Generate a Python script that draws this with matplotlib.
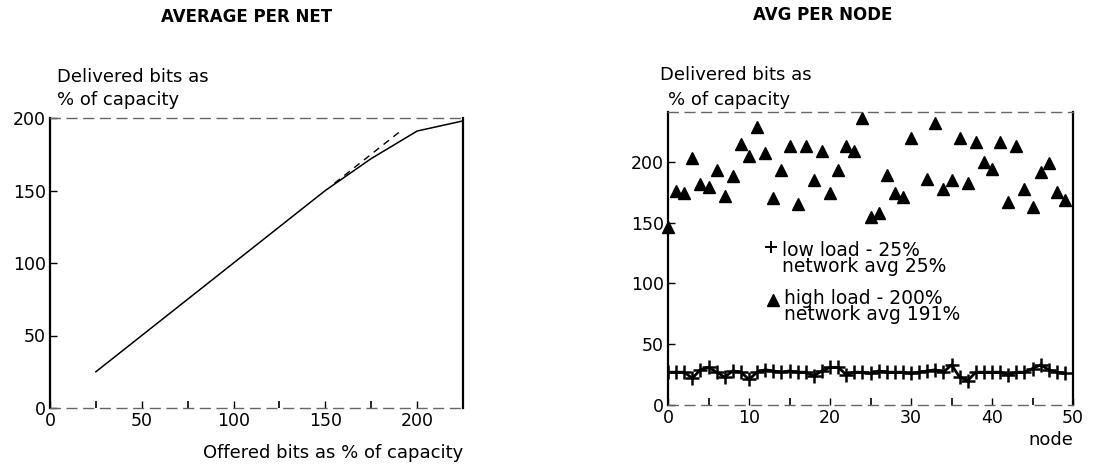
import matplotlib
matplotlib.use("Agg")
import matplotlib.pyplot as plt

plt.rcParams['font.family'] = ['DejaVu Sans']

# Average per network: offered vs delivered load (% of capacity)
offered = [25, 50, 75, 100, 125, 150, 175, 200, 225]
delivered = [25, 50, 75, 100, 125, 150, 172, 191, 198]
ideal_x = [155, 190]
ideal_y = [155, 190]

# Average per node
nodes = list(range(50))
high_nodes = [n for n in nodes if n != 31]
high_load = [146, 176, 174, 203, 182, 179, 193, 172, 188, 215,
             205, 229, 207, 170, 193, 213, 165, 213, 185, 209,
             174, 193, 213, 209, 236, 155, 158, 189, 174, 171,
             220, 186, 232, 178, 185, 220, 183, 216, 200,
             194, 216, 167, 213, 178, 163, 192, 199, 175, 169]
low_load = [27, 27, 27, 22, 29, 31, 27, 23, 28, 27,
            21, 27, 29, 28, 27, 28, 27, 27, 24, 28,
            31, 31, 25, 27, 27, 26, 28, 27, 27, 27,
            26, 27, 28, 29, 27, 33, 23, 20, 27, 27,
            27, 27, 25, 27, 27, 30, 33, 29, 27, 26]

fig = plt.figure(figsize=(10.94, 4.74), dpi=100)
W, H = 1094, 474


def axes_px(x0, y0, x1, y1):
    return fig.add_axes([x0 / W, 1 - y1 / H, (x1 - x0) / W, (y1 - y0) / H])


def style_axes(ax):
    for s in ('left', 'right'):
        ax.spines[s].set_linewidth(1.6)
    for s in ('top', 'bottom'):
        ax.spines[s].set_linewidth(1.0)
        ax.spines[s].set_linestyle((0, (7, 5)))
        ax.spines[s].set_color('#666666')
    ax.tick_params(which='both', direction='in', labelsize=12.5, pad=3,
                   right=False, top=False)
    ax.tick_params(which='major', length=5, width=1)
    ax.tick_params(which='minor', length=5, width=1.2)


# Left panel
ax1 = axes_px(50, 118, 463, 408)
ax1.plot(offered, delivered, color='black', lw=1.1)
ax1.plot(ideal_x, ideal_y, color='black', lw=1.0, ls=(0, (5, 4)))
ax1.set_xlim(0, 225)
ax1.set_ylim(0, 200)
ax1.set_xticks([0, 50, 100, 150, 200])
ax1.set_xticks([25, 75, 125, 175], minor=True)
ax1.set_yticks([0, 50, 100, 150, 200])
style_axes(ax1)

fig.text(247 / W, 1 - 17 / H, 'AVERAGE PER NET', ha='center', va='center',
         fontsize=12, fontweight='bold')
fig.text(57 / W, 1 - 77 / H, 'Delivered bits as', ha='left', va='center',
         fontsize=13)
fig.text(57 / W, 1 - 100 / H, '% of capacity', ha='left', va='center',
         fontsize=13)
fig.text(463 / W, 1 - 453 / H, 'Offered bits as % of capacity',
         ha='right', va='center', fontsize=13)

# Right panel
ax2 = axes_px(668, 112, 1073, 405)
ax2.plot(high_nodes, high_load, ls='none', marker='^', color='black',
         markersize=8.5, clip_on=False)
ax2.plot(nodes, low_load, color='black', lw=2.0, marker='+',
         markersize=10, markeredgewidth=1.8)
ax2.set_xlim(0, 50)
ax2.set_ylim(0, 241)
ax2.set_xticks([0, 10, 20, 30, 40, 50])
ax2.set_xticks([5, 15, 25, 35, 45], minor=True)
ax2.set_yticks([0, 50, 100, 150, 200])
style_axes(ax2)

# Legend drawn as annotated text inside the panel
ax2.plot([0.254], [0.54], marker='+', color='black', markersize=8,
         markeredgewidth=1.4, transform=ax2.transAxes)
ax2.text(0.282, 0.50, 'low load - 25%\nnetwork avg 25%',
         transform=ax2.transAxes, ha='left', va='center', fontsize=13.5,
         linespacing=0.8)
ax2.plot([0.259], [0.36], marker='^', color='black', markersize=8.5,
         transform=ax2.transAxes)
ax2.text(0.287, 0.335, 'high load - 200%\nnetwork avg 191%',
         transform=ax2.transAxes, ha='left', va='center', fontsize=13.5,
         linespacing=0.8)

fig.text(823 / W, 1 - 15 / H, 'AVG PER NODE', ha='center', va='center',
         fontsize=12, fontweight='bold')
fig.text(660 / W, 1 - 75 / H, 'Delivered bits as', ha='left', va='center',
         fontsize=13)
fig.text(668 / W, 1 - 100 / H, '% of capacity', ha='left', va='center',
         fontsize=13)
fig.text(1073 / W, 1 - 440 / H, 'node', ha='right', va='center',
         fontsize=13)

fig.savefig('out.png', dpi=100)
